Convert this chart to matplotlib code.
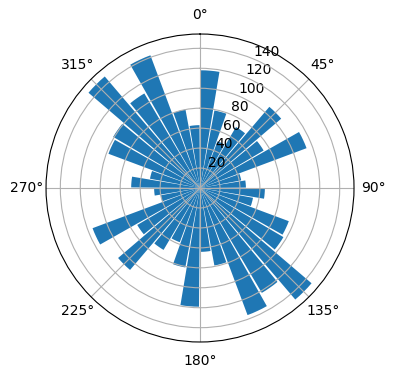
import numpy as np
import matplotlib
matplotlib.use("Agg")
import matplotlib.pyplot as plt

# bar centres in degrees, clockwise from north
directions = [5, 15, 25, 35, 45, 55, 65, 75, 85,
              95, 105, 115, 125, 135, 145, 155, 165, 175,
              185, 195, 205, 215, 225, 235, 245, 255, 265,
              275, 285, 295, 305, 315, 325, 335, 345, 355]
counts = [118, 79, 50, 71, 107, 74, 114, 42, 46,
          65, 54, 95, 97, 147, 122, 136, 79, 64,
          119, 81, 58, 72, 108, 73, 115, 40, 46,
          69, 51, 98, 101, 147, 110, 142, 80, 63]
bar_width_deg = 9

fig = plt.figure(figsize=(3.96, 3.8), dpi=100)
ax = fig.add_axes([0.1162, 0.1, 0.7778, 0.8105], projection="polar")
ax.set_theta_zero_location("N")
ax.set_theta_direction(-1)
ax.bar(np.deg2rad(directions), counts, width=np.deg2rad(bar_width_deg))
ax.set_rticks([20, 40, 60, 80, 100, 120, 140])

fig.savefig("out.png", dpi=100)
